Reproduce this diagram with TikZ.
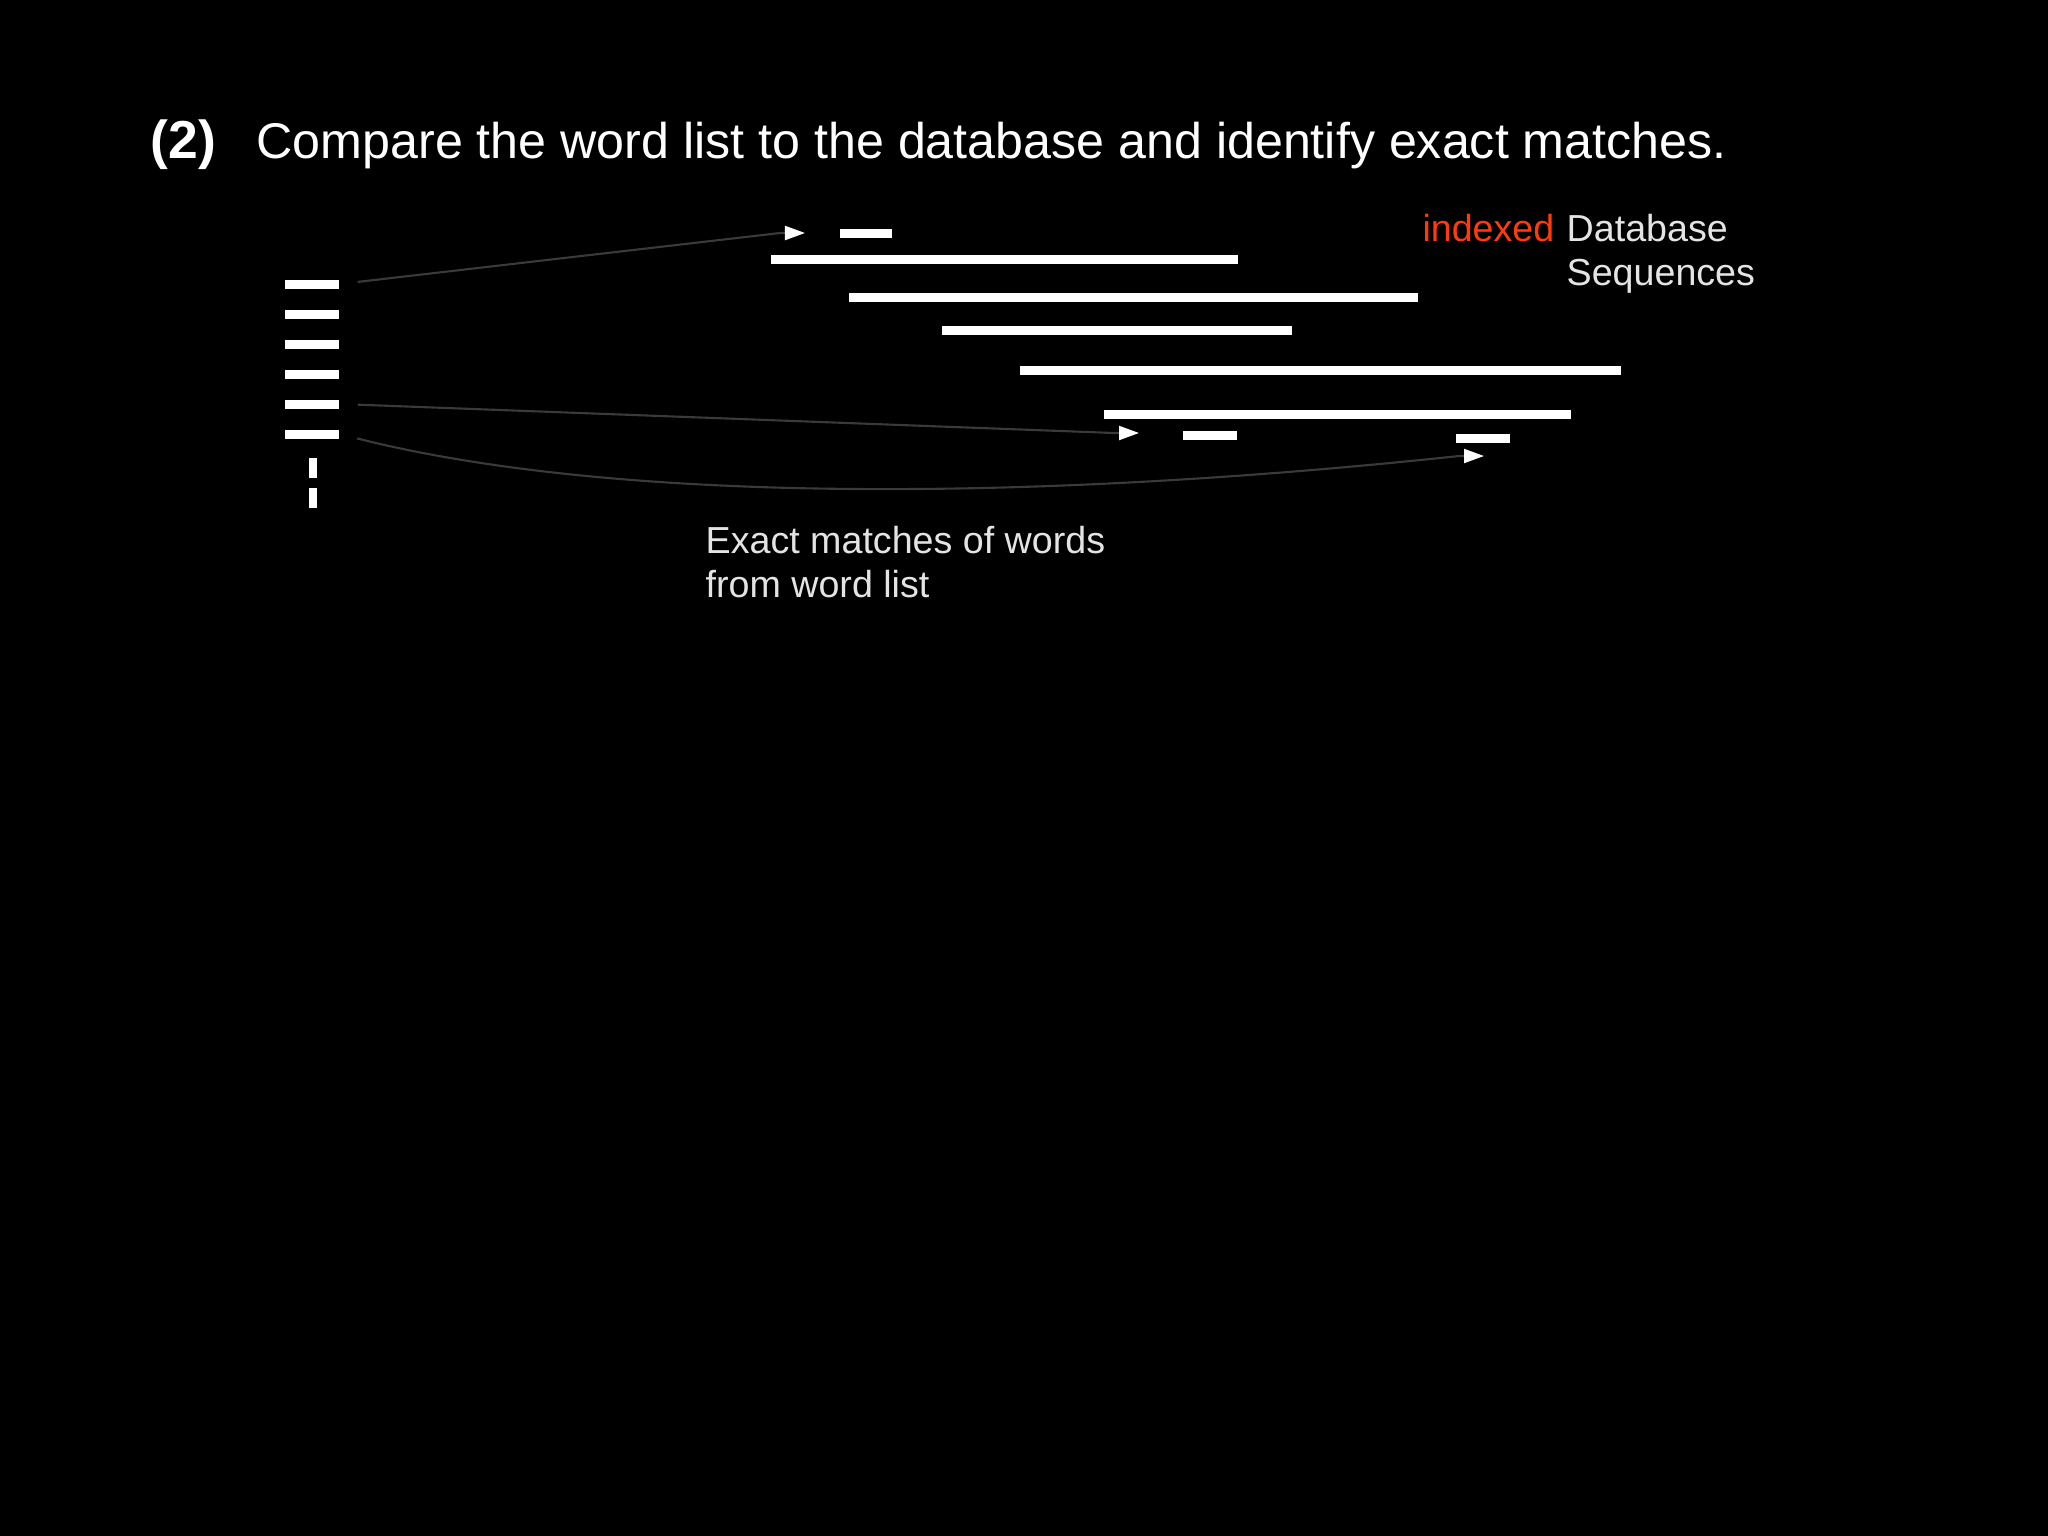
\documentclass[tikz,border=0pt]{standalone}
\usepackage{fontspec}
\setmainfont{Liberation Sans}
\usetikzlibrary{arrows.meta}
\definecolor{indexred}{RGB}{255,58,12}
\definecolor{labelgray}{RGB}{228,228,228}
\definecolor{linkgray}{RGB}{58,58,58}
\tikzset{
  bar/.style={fill=white, inner sep=0pt, minimum height=0.09cm},
  dashbar/.style={fill=white, inner sep=0pt, minimum width=0.08cm, minimum height=0.2cm},
  link/.style={draw=linkgray, line width=0.6pt, shorten <=0.18cm, -{Triangle[length=0.2cm,width=0.14cm,color=white]}},
  lbl/.style={text=labelgray, font=\fontsize{10.7}{12.5}\selectfont, inner sep=0pt, align=left}
}

\begin{document}
\begin{tikzpicture}[x=0.01cm,y=-0.01cm]
\fill [black] (0,0) rectangle (2048,1536);
\useasboundingbox (0,0) rectangle (2048,1536);
\node [anchor=base west, inner sep=0pt, text=white, font=\fontsize{15.2}{17}\selectfont\bfseries] (num) at (150,158) {(2)};
\node [anchor=base west, inner sep=0pt, text=white, font=\fontsize{14.27}{17}\selectfont] (title) at (256,158) {Compare the word list to the database and identify exact matches.};
\node [bar, minimum width=0.54cm] (w1) at (312,284) {};
\node [bar, minimum width=0.54cm] (w2) at (312,314) {};
\node [bar, minimum width=0.54cm] (w3) at (312,344) {};
\node [bar, minimum width=0.54cm] (w4) at (312,374) {};
\node [bar, minimum width=0.54cm] (w5) at (312,404) {};
\node [bar, minimum width=0.54cm] (w6) at (312,434) {};
\node [dashbar] (d1) at (313,468) {};
\node [dashbar] (d2) at (313,498) {};
\node [bar, minimum width=4.67cm] (s1) at (1004.5,259) {};
\node [bar, minimum width=5.69cm] (s2) at (1133.5,297) {};
\node [bar, minimum width=3.50cm] (s3) at (1117,330) {};
\node [bar, minimum width=6.01cm] (s4) at (1320.5,370) {};
\node [bar, minimum width=4.67cm] (s5) at (1337.5,414) {};
\node [bar, minimum width=0.52cm] (m1) at (866,233) {};
\node [bar, minimum width=0.54cm] (m2) at (1210,435) {};
\node [bar, minimum width=0.54cm] (m3) at (1483,438) {};
\coordinate (t1) at (805,233);
\coordinate (t2) at (1139,433);
\coordinate (t3) at (1484,456);
\draw [link] (w1.east) -- ([xshift=-0.25cm]t1) -- (t1);
\draw [link] (w5.east) -- ([xshift=-0.25cm]t2) -- (t2);
\draw [link] (w6.east) .. controls (600,500) and (1000,505) .. ([xshift=-0.25cm]t3) -- (t3);
\node [lbl, anchor=north west] (db) at (1566,214) {Database\\Sequences};
\node [lbl, text=indexred, anchor=base east] (idx) at (1555,241) {indexed};
\node [lbl, anchor=north west] (exact) at (705,526) {Exact matches of words\\from word list};
\end{tikzpicture}
\end{document}
